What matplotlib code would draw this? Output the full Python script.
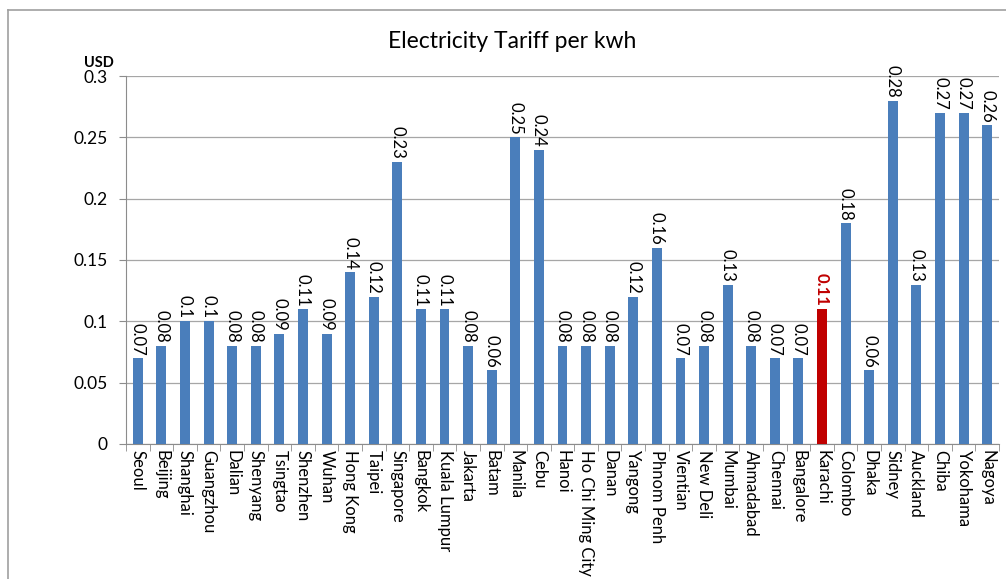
import matplotlib.pyplot as plt
from matplotlib.lines import Line2D

plt.rcParams['font.family'] = ['Lato', 'DejaVu Sans']

cities = ['Seoul', 'Beijing', 'Shanghai', 'Guangzhou', 'Dalian', 'Shenyang',
          'Tsingtao', 'Shenzhen', 'Wuhan', 'Hong Kong', 'Taipei', 'Singapore',
          'Bangkok', 'Kuala Lumpur', 'Jakarta', 'Batam', 'Manila', 'Cebu',
          'Hanoi', 'Ho Chi Ming City', 'Danan', 'Yangong', 'Phnom Penh',
          'Vientian', 'New Deli', 'Mumbai', 'Ahmadabad', 'Chennai',
          'Bangalore', 'Karachi', 'Colombo', 'Dhaka', 'Sidney', 'Auckland',
          'Chiba', 'Yokohama', 'Nagoya']
tariff = [0.07, 0.08, 0.1, 0.1, 0.08, 0.08, 0.09, 0.11, 0.09, 0.14, 0.12,
          0.23, 0.11, 0.11, 0.08, 0.06, 0.25, 0.24, 0.08, 0.08, 0.08, 0.12,
          0.16, 0.07, 0.08, 0.13, 0.08, 0.07, 0.07, 0.11, 0.18, 0.06, 0.28,
          0.13, 0.27, 0.27, 0.26]
highlight = 'Karachi'
yticks = [0, 0.05, 0.1, 0.15, 0.2, 0.25, 0.3]

blue = '#4a7ebb'
red = '#c00000'
colors = [red if c == highlight else blue for c in cities]

fig = plt.figure(figsize=(10.06, 5.79), dpi=100)
ax = fig.add_axes([126 / 1006, 135 / 579, 873 / 1006, 368 / 579])

x = range(len(cities))
ax.bar(x, tariff, width=0.42, color=colors, zorder=3)

for i, (c, v) in enumerate(zip(cities, tariff)):
    hot = c == highlight
    ax.annotate(f'{v:g}', (i, v), xytext=(0, 2), textcoords='offset points',
                rotation=270, ha='center', va='bottom', fontsize=12,
                color=red if hot else 'black',
                fontweight='bold' if hot else 'normal')

ax.set_xlim(-0.5, len(cities) - 0.5)
ax.set_ylim(0, 0.3)
ax.set_yticks(yticks)
ax.set_yticklabels([f'{t:g}' for t in yticks], fontsize=12.5)
ax.yaxis.grid(True, color='#a6a6a6', linewidth=0.9, zorder=0)

ax.set_xticks(list(x))
ax.set_xticklabels(cities, rotation=270, fontsize=12)
ax.tick_params(axis='x', length=0, pad=4)
ax.set_xticks([i + 0.5 for i in range(-1, len(cities))], minor=True)
ax.tick_params(axis='x', which='minor', length=5, color='#8c8c8c')
ax.tick_params(axis='y', length=5, color='#8c8c8c', pad=8)

for side in ['top', 'right']:
    ax.spines[side].set_visible(False)
for side in ['left', 'bottom']:
    ax.spines[side].set_color('#8c8c8c')

fig.text(99 / 1006, 1 - 63 / 579, 'USD', ha='center', va='center',
         fontsize=10.5, fontweight='bold')
fig.text(512 / 1006, 1 - 42 / 579, 'Electricity Tariff per kwh',
         ha='center', va='center', fontsize=16.5)

# frame around the chart
fig.add_artist(Line2D([8 / 1006, 1], [1 - 10 / 579, 1 - 10 / 579],
                      transform=fig.transFigure, color='#a0a0a0', lw=1.2))
fig.add_artist(Line2D([8 / 1006, 8 / 1006], [0, 1 - 10 / 579],
                      transform=fig.transFigure, color='#a0a0a0', lw=1.2))

fig.savefig('out.png', dpi=100)
